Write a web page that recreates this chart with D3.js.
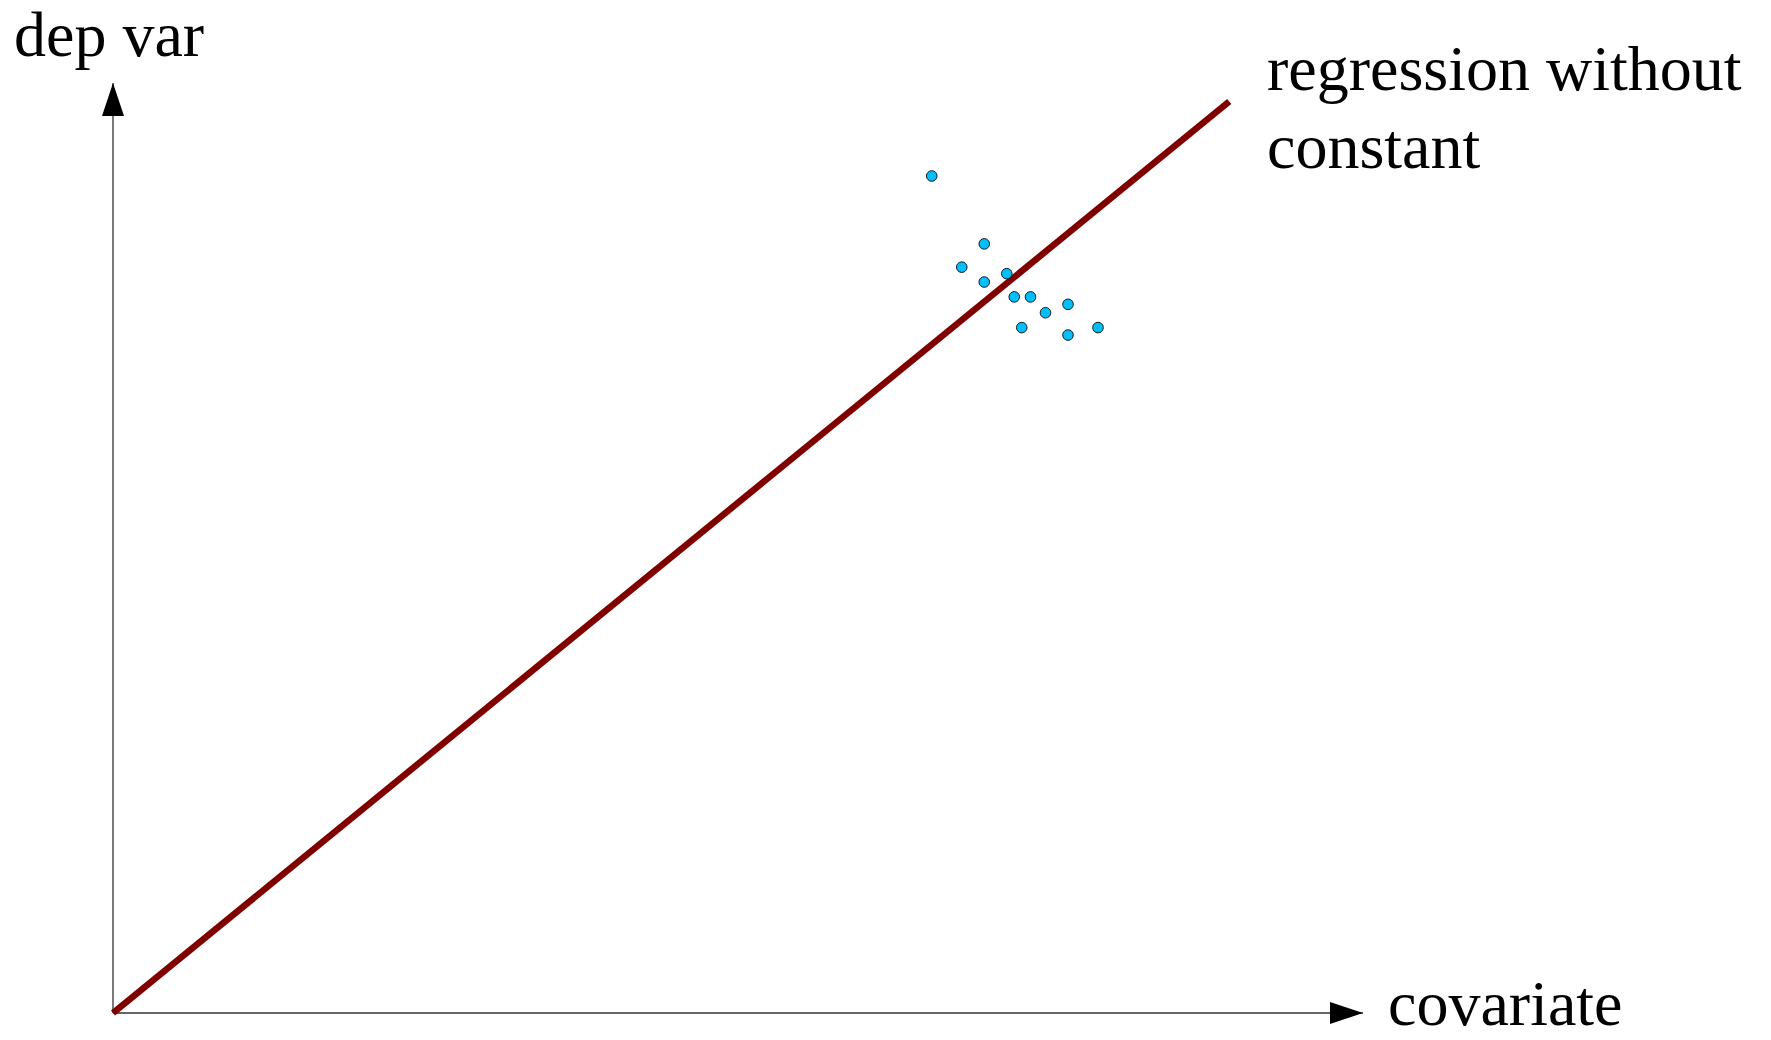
<!DOCTYPE html>
<html>
<head>
<meta charset="utf-8">
<script src="https://cdn.jsdelivr.net/npm/d3@7"></script>
<style>
  html, body { margin: 0; padding: 0; background: #fff; }
  svg { display: block; }
  text { font-family: "Liberation Serif", "Times New Roman", serif; fill: #000; }
</style>
</head>
<body>
<svg id="chart" width="1771" height="1040"></svg>
<script>
// Data (arbitrary units)
const covariate = [65.5, 69.7, 67.9, 69.7, 71.5, 72.1, 73.4, 74.6, 76.4, 72.7, 76.4, 78.8];
const depVar    = [90.0, 82.7, 80.2, 78.6, 79.5, 77.0, 77.0, 75.3, 76.2, 73.7, 72.9, 73.7];
const regressionX = [0, 89.3];
const regressionY = [0, 98.0];
const labels = {
  y: "dep var",
  x: "covariate",
  line: ["regression without", "constant"]
};

const svg = d3.select("#chart");
const x = d3.scaleLinear().domain([0, 100]).range([113, 1363]);
const y = d3.scaleLinear().domain([0, 100]).range([1013, 83]);

// axes with arrowheads
const defs = svg.append("defs");
defs.append("marker").attr("id", "arrow")
  .attr("viewBox", "0 0 33 22").attr("refX", 33).attr("refY", 11)
  .attr("markerWidth", 33).attr("markerHeight", 22)
  .attr("markerUnits", "userSpaceOnUse").attr("orient", "auto")
  .append("path").attr("d", "M0,0 L33,11 L0,22 Z").attr("fill", "#000");

svg.append("line")
  .attr("x1", x(0)).attr("y1", y(0)).attr("x2", x(100)).attr("y2", y(0))
  .attr("stroke", "#333").attr("stroke-width", 1.3).attr("marker-end", "url(#arrow)");
svg.append("line")
  .attr("x1", x(0)).attr("y1", y(0)).attr("x2", x(0)).attr("y2", y(100))
  .attr("stroke", "#333").attr("stroke-width", 1.3).attr("marker-end", "url(#arrow)");

// regression line
svg.append("line")
  .attr("x1", x(regressionX[0])).attr("y1", y(regressionY[0]))
  .attr("x2", x(regressionX[1])).attr("y2", y(regressionY[1]))
  .attr("stroke", "#800000").attr("stroke-width", 6.5);

// points
svg.append("g").selectAll("circle")
  .data(covariate.map((d, i) => [d, depVar[i]]))
  .join("circle")
  .attr("cx", d => x(d[0])).attr("cy", d => y(d[1]))
  .attr("r", 5.3)
  .attr("fill", "#00bfff").attr("stroke", "#1a1a1a").attr("stroke-width", 1);

// labels
svg.append("text").attr("x", 14).attr("y", 56).attr("font-size", 64).text(labels.y);
svg.append("text").attr("x", 1388).attr("y", 1025).attr("font-size", 64).text(labels.x);
const t = svg.append("text").attr("font-size", 64);
t.append("tspan").attr("x", 1267).attr("y", 90).text(labels.line[0]);
t.append("tspan").attr("x", 1267).attr("y", 168).text(labels.line[1]);
</script>
</body>
</html>
